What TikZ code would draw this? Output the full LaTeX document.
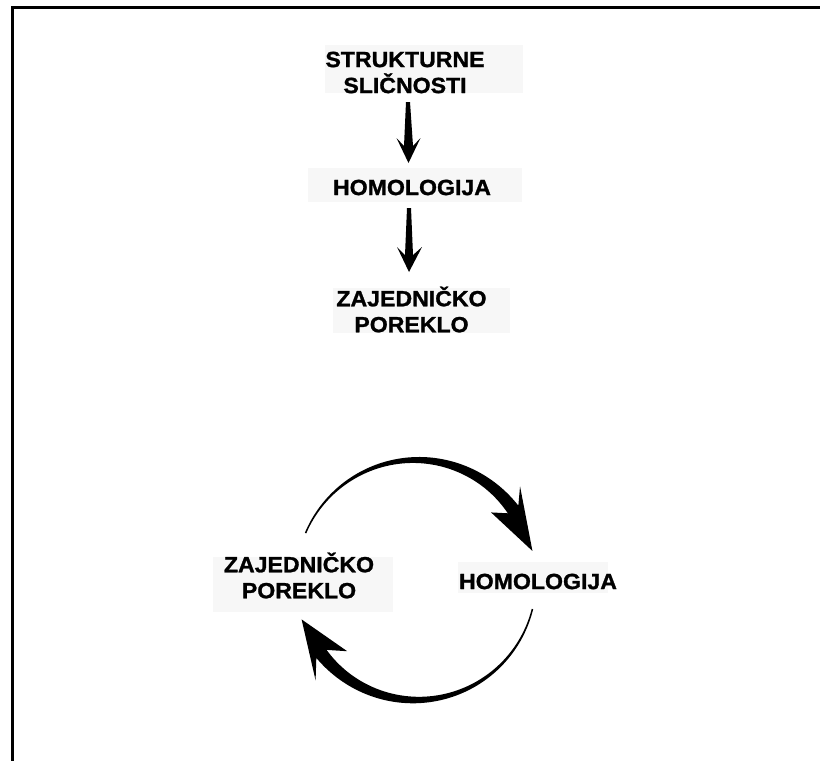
\documentclass[tikz,border=0pt]{standalone}
\usepackage{fontspec}
\setmainfont{Liberation Sans}[FakeStretch=1.05,BoldFeatures={FakeBold=1.2}]
\begin{document}
\begin{tikzpicture}[x=0.75pt,y=-0.75pt,
  lbl/.style={font=\bfseries\fontsize{16.5}{19.5}\selectfont, align=center, inner sep=0pt},
  bgbox/.style={fill=black!3},
  frameline/.style={line width=2.25pt, black},
  declare function={wa(\t)=1.5+11.5*((157.01-\t)/121)^1.6; wb(\t)=1.5+11.5*((-13.99-\t)/128)^1.6;}]
\useasboundingbox (0,0) rectangle (820,761);
% frame
\draw[frameline] (11,7.5) -- (820,7.5);
\draw[frameline] (12.5,6.5) -- (12.5,761);
% background boxes
\fill[bgbox] (325,45) rectangle (523,93);
\fill[bgbox] (308,168) rectangle (522,202);
\fill[bgbox] (333,288) rectangle (510,333);
\fill[bgbox] (213,557) rectangle (393,612);
\fill[bgbox] (458,562) rectangle (608,593);
% labels
\node[lbl] (s) at (405,72.5) {STRUKTURNE\\SLIČNOSTI};
\node[lbl] (h1) at (412,187.5) {HOMOLOGIJA};
\node[lbl] (z1) at (411.5,309.5) {ZAJEDNIČKO\\POREKLO};
\node[lbl] (z2) at (299,575.5) {ZAJEDNIČKO\\POREKLO};
\node[lbl] (h2) at (538,581.5) {HOMOLOGIJA};
% straight arrows
\fill (406,102) -- (404,146) -- (396.5,138) -- (408.5,163) -- (420.5,138) -- (413,146) -- (410,102) -- cycle;
\fill (407,208) -- (405,255) -- (397,247) -- (409,272) -- (422,247) -- (413,255) -- (411,208) -- cycle;
% circular arrows
\fill plot[domain=157:36,samples=80,variable=\t] ({416+(120+wa(\t)/2)*cos(\t)},{580-(120+wa(\t)/2)*sin(\t)})
  -- ({416+140*cos(42)},{580-140*sin(42)})
  -- ({416+120*cos(14)},{580-120*sin(14)})
  -- ({416+101*cos(42)},{580-101*sin(42)})
  -- plot[domain=36:157,samples=80,variable=\t] ({416+(120-wa(\t)/2)*cos(\t)},{580-(120-wa(\t)/2)*sin(\t)})
  -- cycle;
\fill plot[domain=-14:-142,samples=80,variable=\t] ({416+(120+wb(\t)/2)*cos(\t)},{580-(120+wb(\t)/2)*sin(\t)})
  -- ({416+142*cos(-135)},{580-142*sin(-135)})
  -- ({416+121*cos(-161)},{580-121*sin(-161)})
  -- ({416+99*cos(-134)},{580-99*sin(-134)})
  -- plot[domain=-142:-14,samples=80,variable=\t] ({416+(120-wb(\t)/2)*cos(\t)},{580-(120-wb(\t)/2)*sin(\t)})
  -- cycle;
\end{tikzpicture}
\end{document}
